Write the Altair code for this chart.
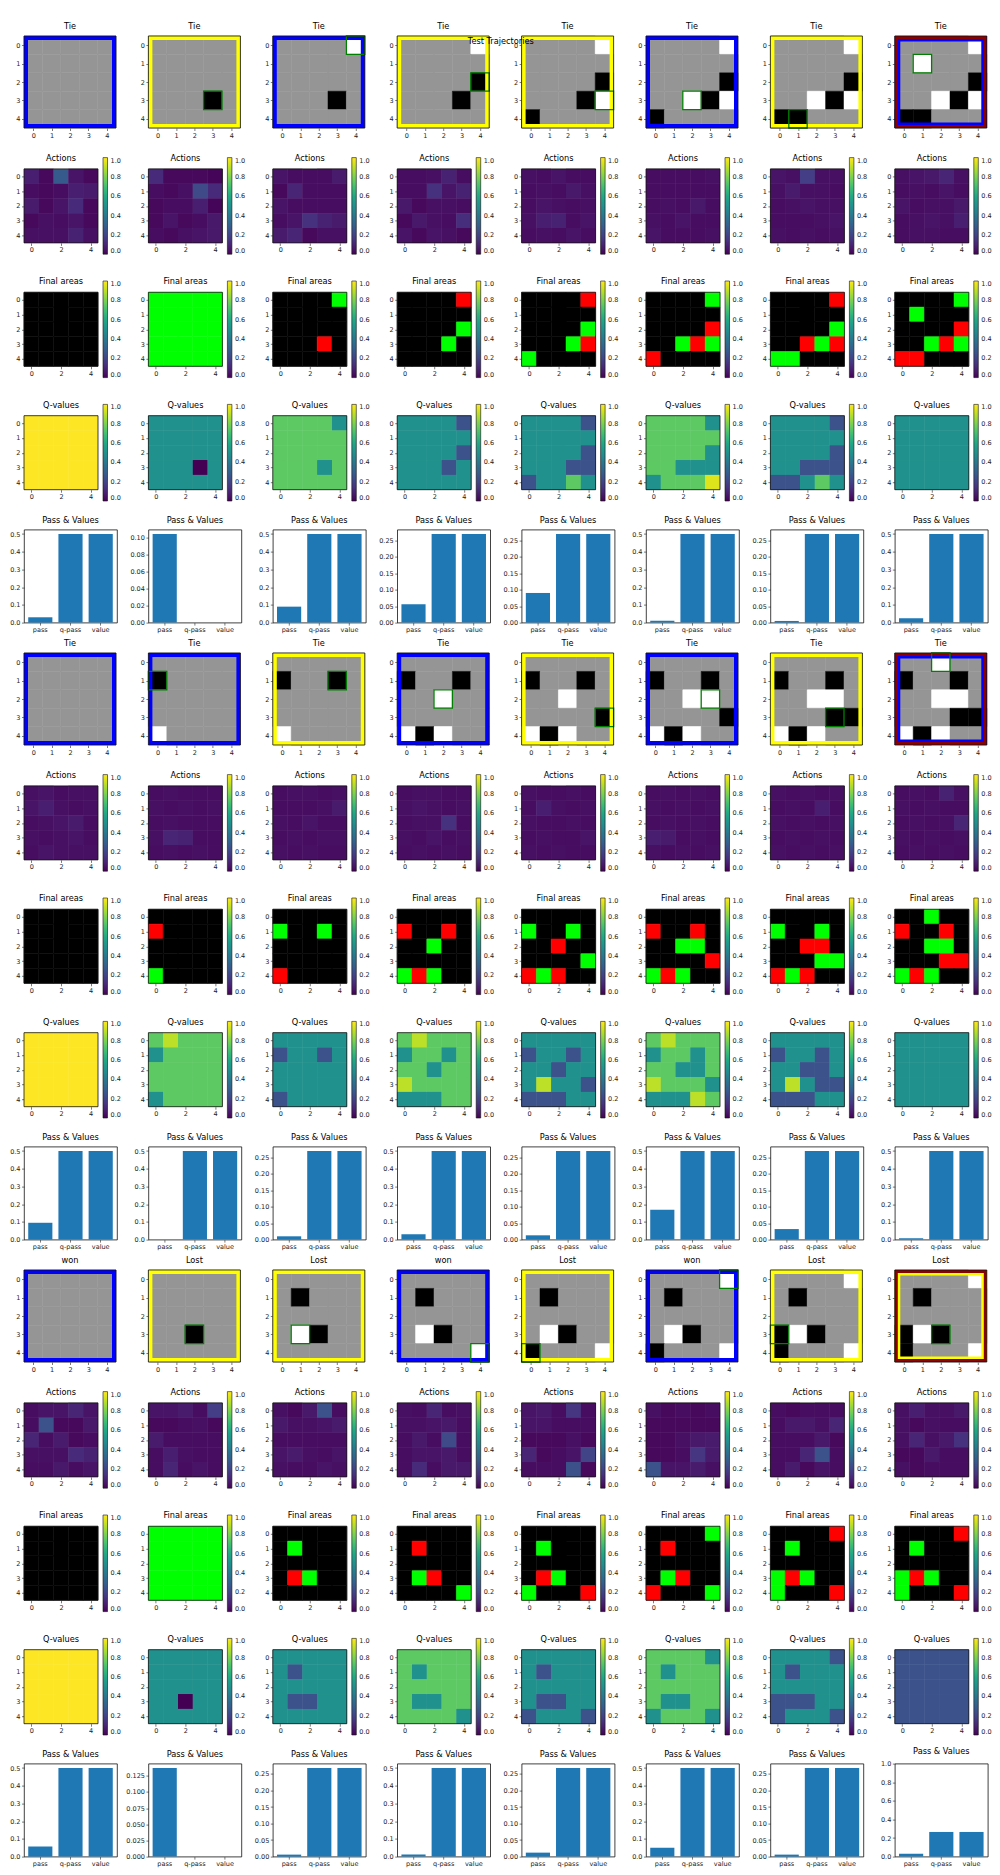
import altair as alt
import pandas as pd

FONT = "DejaVu Sans"
N = 5
IDX = [0, 1, 2, 3, 4]

# ---------------------------------------------------------------- data
board_titles = [
    ["Tie", "Tie", "Tie", "Tie", "Tie", "Tie", "Tie", "Tie"],
    ["Tie", "Tie", "Tie", "Tie", "Tie", "Tie", "Tie", "Tie"],
    ["won", "Lost", "Lost", "won", "Lost", "won", "Lost", "Lost"],
]
# player to move: B = blue frame, Y = yellow frame
board_player = [
    ["B", "Y", "B", "Y", "Y", "B", "Y", "B"],
    ["B", "B", "Y", "B", "Y", "B", "Y", "B"],
    ["B", "Y", "Y", "B", "Y", "B", "Y", "Y"],
]
game_over = [
    [False, False, False, False, False, False, False, True],
    [False, False, False, False, False, False, False, True],
    [False, False, False, False, False, False, False, True],
]
# board cells: . empty, B black stone, W white stone
boards = [
    [
        [".....", ".....", ".....", ".....", "....."],
        [".....", ".....", ".....", "...B.", "....."],
        ["....W", ".....", ".....", "...B.", "....."],
        ["....W", ".....", "....B", "...B.", "....."],
        ["....W", ".....", "....B", "...BW", "B...."],
        ["....W", ".....", "....B", "..WBW", "B...."],
        ["....W", ".....", "....B", "..WBW", "BB..."],
        ["....W", ".W...", "....B", "..WBW", "BB..."],
    ],
    [
        [".....", ".....", ".....", ".....", "....."],
        [".....", "B....", ".....", ".....", "W...."],
        [".....", "B..B.", ".....", ".....", "W...."],
        [".....", "B..B.", "..W..", ".....", "WBW.."],
        [".....", "B..B.", "..W..", "....B", "WBW.."],
        [".....", "B..B.", "..WW.", "....B", "WBW.."],
        [".....", "B..B.", "..WW.", "...BB", "WBW.."],
        ["..W..", "B..B.", "..WW.", "...BB", "WBW.."],
    ],
    [
        [".....", ".....", ".....", ".....", "....."],
        [".....", ".....", ".....", "..B..", "....."],
        [".....", ".B...", ".....", ".WB..", "....."],
        [".....", ".B...", ".....", ".WB..", "....W"],
        [".....", ".B...", ".....", ".WB..", "B...W"],
        ["....W", ".B...", ".....", ".WB..", "B...W"],
        ["....W", ".B...", ".....", "BWB..", "B...W"],
        ["....W", ".B...", ".....", "BWB..", "B...W"],
    ],
]
last_move = [
    [None, (3, 3), (0, 4), (2, 4), (3, 4), (3, 2), (4, 1), (1, 1)],
    [None, (1, 0), (1, 3), (2, 2), (3, 4), (2, 3), (3, 3), (0, 2)],
    [None, (3, 2), (3, 1), (4, 4), (4, 0), (0, 4), (3, 0), (3, 2)],
]
# final areas: . none, G own, R opponent
finals = [
    [
        [".....", ".....", ".....", ".....", "....."],
        ["GGGGG", "GGGGG", "GGGGG", "GGGGG", "GGGGG"],
        ["....G", ".....", ".....", "...R.", "....."],
        ["....R", ".....", "....G", "...G.", "....."],
        ["....R", ".....", "....G", "...GR", "G...."],
        ["....G", ".....", "....R", "..GRG", "R...."],
        ["....R", ".....", "....G", "..RGR", "GG..."],
        ["....G", ".G...", "....R", "..GRG", "RR..."],
    ],
    [
        [".....", ".....", ".....", ".....", "....."],
        [".....", "R....", ".....", ".....", "G...."],
        [".....", "G..G.", ".....", ".....", "R...."],
        [".....", "R..R.", "..G..", ".....", "GRG.."],
        [".....", "G..G.", "..R..", "....G", "RGR.."],
        [".....", "R..R.", "..GG.", "....R", "GRG.."],
        [".....", "G..G.", "..RR.", "...GG", "RGR.."],
        ["..G..", "R..R.", "..GG.", "...RR", "GRG.."],
    ],
    [
        [".....", ".....", ".....", ".....", "....."],
        ["GGGGG", "GGGGG", "GGGGG", "GGGGG", "GGGGG"],
        [".....", ".G...", ".....", ".RG..", "....."],
        [".....", ".R...", ".....", ".GR..", "....G"],
        [".....", ".G...", ".....", ".RG..", "G...R"],
        ["....G", ".R...", ".....", ".GR..", "R...G"],
        ["....R", ".G...", ".....", "GRG..", "G...R"],
        ["....R", ".G...", ".....", "GRG..", "G...R"],
    ],
]
actions = [
    [
        [[0.08, 0.02, 0.28, 0.05, 0.02], [0.03, 0.02, 0.03, 0.08, 0.07], [0.07, 0.02, 0.05, 0.12, 0.02], [0.02, 0.04, 0.03, 0.05, 0.02], [0.04, 0.04, 0.04, 0.09, 0.04]],
        [[0.12, 0.02, 0.02, 0.02, 0.01], [0.03, 0.02, 0.04, 0.22, 0.12], [0.02, 0.03, 0.03, 0.08, 0.01], [0.02, 0.05, 0.02, 0.03, 0.06], [0.03, 0.02, 0.04, 0.05, 0.06]],
        [[0.05, 0.03, 0.03, 0.03, 0.07], [0.02, 0.10, 0.03, 0.03, 0.03], [0.05, 0.03, 0.03, 0.03, 0.03], [0.03, 0.05, 0.14, 0.09, 0.07], [0.07, 0.10, 0.02, 0.04, 0.04]],
        [[0.03, 0.03, 0.04, 0.09, 0.03], [0.03, 0.03, 0.14, 0.05, 0.09], [0.06, 0.02, 0.04, 0.04, 0.03], [0.02, 0.06, 0.04, 0.03, 0.13], [0.05, 0.02, 0.05, 0.04, 0.02]],
        [[0.04, 0.03, 0.05, 0.03, 0.03], [0.03, 0.04, 0.03, 0.06, 0.04], [0.03, 0.05, 0.04, 0.03, 0.04], [0.04, 0.08, 0.09, 0.03, 0.05], [0.03, 0.04, 0.03, 0.05, 0.03]],
        [[0.03, 0.03, 0.03, 0.03, 0.04], [0.03, 0.03, 0.03, 0.03, 0.03], [0.03, 0.04, 0.03, 0.06, 0.03], [0.04, 0.03, 0.05, 0.03, 0.03], [0.05, 0.03, 0.03, 0.03, 0.04]],
        [[0.05, 0.04, 0.18, 0.04, 0.04], [0.04, 0.07, 0.04, 0.04, 0.03], [0.03, 0.04, 0.05, 0.04, 0.04], [0.03, 0.03, 0.03, 0.04, 0.05], [0.04, 0.03, 0.04, 0.03, 0.04]],
        [[0.04, 0.05, 0.06, 0.10, 0.04], [0.03, 0.04, 0.03, 0.05, 0.03], [0.05, 0.03, 0.04, 0.04, 0.06], [0.03, 0.04, 0.05, 0.04, 0.08], [0.03, 0.04, 0.04, 0.03, 0.03]],
    ],
    [
        [[0.04, 0.05, 0.03, 0.04, 0.04], [0.05, 0.08, 0.04, 0.03, 0.04], [0.03, 0.04, 0.05, 0.07, 0.03], [0.04, 0.03, 0.04, 0.05, 0.03], [0.03, 0.05, 0.04, 0.04, 0.04]],
        [[0.03, 0.04, 0.03, 0.03, 0.03], [0.04, 0.03, 0.04, 0.03, 0.04], [0.03, 0.04, 0.03, 0.03, 0.03], [0.04, 0.10, 0.09, 0.03, 0.03], [0.03, 0.04, 0.03, 0.04, 0.03]],
        [[0.03, 0.04, 0.04, 0.03, 0.04], [0.03, 0.03, 0.03, 0.04, 0.07], [0.04, 0.03, 0.05, 0.03, 0.03], [0.03, 0.04, 0.03, 0.04, 0.04], [0.04, 0.03, 0.04, 0.03, 0.03]],
        [[0.03, 0.04, 0.04, 0.03, 0.03], [0.04, 0.05, 0.04, 0.03, 0.04], [0.03, 0.04, 0.04, 0.14, 0.03], [0.04, 0.03, 0.05, 0.03, 0.04], [0.03, 0.04, 0.03, 0.04, 0.03]],
        [[0.04, 0.03, 0.03, 0.04, 0.03], [0.03, 0.08, 0.04, 0.03, 0.04], [0.04, 0.03, 0.03, 0.04, 0.03], [0.03, 0.04, 0.03, 0.03, 0.05], [0.04, 0.03, 0.04, 0.03, 0.03]],
        [[0.03, 0.04, 0.03, 0.04, 0.03], [0.04, 0.03, 0.04, 0.03, 0.04], [0.03, 0.04, 0.03, 0.04, 0.03], [0.08, 0.07, 0.03, 0.04, 0.03], [0.04, 0.03, 0.04, 0.03, 0.04]],
        [[0.04, 0.03, 0.04, 0.03, 0.04], [0.03, 0.04, 0.03, 0.08, 0.03], [0.04, 0.03, 0.04, 0.03, 0.04], [0.03, 0.04, 0.03, 0.04, 0.03], [0.04, 0.03, 0.04, 0.03, 0.04]],
        [[0.03, 0.04, 0.03, 0.09, 0.04], [0.04, 0.03, 0.04, 0.03, 0.03], [0.03, 0.04, 0.03, 0.04, 0.10], [0.04, 0.03, 0.04, 0.03, 0.04], [0.03, 0.04, 0.03, 0.04, 0.03]],
    ],
    [
        [[0.03, 0.05, 0.05, 0.10, 0.05], [0.03, 0.25, 0.02, 0.02, 0.06], [0.10, 0.03, 0.07, 0.02, 0.03], [0.04, 0.04, 0.04, 0.12, 0.09], [0.03, 0.03, 0.06, 0.03, 0.05]],
        [[0.05, 0.05, 0.07, 0.03, 0.18], [0.02, 0.02, 0.03, 0.04, 0.02], [0.07, 0.03, 0.03, 0.03, 0.03], [0.03, 0.08, 0.04, 0.03, 0.03], [0.03, 0.10, 0.03, 0.05, 0.03]],
        [[0.04, 0.02, 0.06, 0.25, 0.03], [0.06, 0.04, 0.04, 0.05, 0.07], [0.03, 0.03, 0.03, 0.03, 0.03], [0.05, 0.07, 0.04, 0.03, 0.05], [0.04, 0.03, 0.03, 0.05, 0.04]],
        [[0.04, 0.03, 0.10, 0.03, 0.04], [0.04, 0.04, 0.05, 0.06, 0.03], [0.03, 0.06, 0.03, 0.22, 0.03], [0.03, 0.05, 0.05, 0.06, 0.03], [0.03, 0.12, 0.03, 0.06, 0.06]],
        [[0.05, 0.06, 0.03, 0.15, 0.03], [0.05, 0.05, 0.03, 0.03, 0.03], [0.02, 0.02, 0.02, 0.04, 0.02], [0.10, 0.02, 0.03, 0.05, 0.20], [0.03, 0.03, 0.03, 0.24, 0.02]],
        [[0.04, 0.02, 0.03, 0.02, 0.03], [0.02, 0.02, 0.02, 0.02, 0.02], [0.02, 0.02, 0.04, 0.06, 0.07], [0.02, 0.02, 0.03, 0.15, 0.07], [0.25, 0.05, 0.05, 0.07, 0.04]],
        [[0.03, 0.02, 0.03, 0.03, 0.03], [0.03, 0.06, 0.06, 0.04, 0.10], [0.03, 0.03, 0.03, 0.06, 0.02], [0.03, 0.03, 0.10, 0.25, 0.03], [0.03, 0.07, 0.02, 0.05, 0.03]],
        [[0.04, 0.08, 0.04, 0.04, 0.06], [0.04, 0.02, 0.04, 0.03, 0.03], [0.04, 0.10, 0.04, 0.06, 0.14], [0.02, 0.02, 0.06, 0.03, 0.03], [0.04, 0.02, 0.03, 0.03, 0.03]],
    ],
]
qvalues = [
    [
        [[1.0, 1.0, 1.0, 1.0, 1.0], [1.0, 1.0, 1.0, 1.0, 1.0], [1.0, 1.0, 1.0, 1.0, 1.0], [1.0, 1.0, 1.0, 1.0, 1.0], [1.0, 1.0, 1.0, 1.0, 1.0]],
        [[0.5, 0.5, 0.5, 0.5, 0.5], [0.5, 0.5, 0.5, 0.5, 0.5], [0.5, 0.5, 0.5, 0.5, 0.5], [0.5, 0.5, 0.5, 0.0, 0.5], [0.5, 0.5, 0.5, 0.5, 0.5]],
        [[0.75, 0.75, 0.75, 0.75, 0.5], [0.75, 0.75, 0.75, 0.75, 0.75], [0.75, 0.75, 0.75, 0.75, 0.75], [0.75, 0.75, 0.75, 0.5, 0.75], [0.75, 0.75, 0.75, 0.75, 0.75]],
        [[0.5, 0.5, 0.5, 0.5, 0.25], [0.5, 0.5, 0.5, 0.5, 0.5], [0.5, 0.5, 0.5, 0.5, 0.25], [0.5, 0.5, 0.5, 0.25, 0.5], [0.5, 0.5, 0.5, 0.5, 0.5]],
        [[0.5, 0.5, 0.5, 0.5, 0.25], [0.5, 0.5, 0.5, 0.5, 0.5], [0.5, 0.5, 0.5, 0.5, 0.25], [0.5, 0.5, 0.5, 0.25, 0.25], [0.25, 0.5, 0.5, 0.75, 0.5]],
        [[0.75, 0.75, 0.75, 0.75, 0.5], [0.75, 0.75, 0.75, 0.75, 0.75], [0.75, 0.75, 0.75, 0.75, 0.5], [0.75, 0.75, 0.5, 0.5, 0.5], [0.5, 0.75, 0.75, 0.75, 0.95]],
        [[0.5, 0.5, 0.5, 0.5, 0.25], [0.5, 0.5, 0.5, 0.5, 0.5], [0.5, 0.5, 0.5, 0.5, 0.25], [0.5, 0.5, 0.25, 0.25, 0.25], [0.25, 0.25, 0.5, 0.75, 0.5]],
        [[0.5, 0.5, 0.5, 0.5, 0.5], [0.5, 0.5, 0.5, 0.5, 0.5], [0.5, 0.5, 0.5, 0.5, 0.5], [0.5, 0.5, 0.5, 0.5, 0.5], [0.5, 0.5, 0.5, 0.5, 0.5]],
    ],
    [
        [[1.0, 1.0, 1.0, 1.0, 1.0], [1.0, 1.0, 1.0, 1.0, 1.0], [1.0, 1.0, 1.0, 1.0, 1.0], [1.0, 1.0, 1.0, 1.0, 1.0], [1.0, 1.0, 1.0, 1.0, 1.0]],
        [[0.75, 0.9, 0.75, 0.75, 0.75], [0.5, 0.75, 0.75, 0.75, 0.75], [0.75, 0.75, 0.75, 0.75, 0.75], [0.75, 0.75, 0.75, 0.75, 0.75], [0.5, 0.75, 0.75, 0.75, 0.75]],
        [[0.5, 0.5, 0.5, 0.5, 0.5], [0.25, 0.5, 0.5, 0.25, 0.5], [0.5, 0.5, 0.5, 0.5, 0.5], [0.5, 0.5, 0.5, 0.5, 0.5], [0.25, 0.5, 0.5, 0.5, 0.5]],
        [[0.75, 0.9, 0.75, 0.75, 0.75], [0.5, 0.75, 0.75, 0.5, 0.75], [0.75, 0.75, 0.5, 0.75, 0.75], [0.9, 0.75, 0.75, 0.75, 0.75], [0.5, 0.5, 0.5, 0.75, 0.75]],
        [[0.5, 0.5, 0.5, 0.5, 0.5], [0.25, 0.5, 0.5, 0.25, 0.5], [0.5, 0.5, 0.25, 0.5, 0.5], [0.5, 0.9, 0.5, 0.5, 0.25], [0.25, 0.25, 0.25, 0.5, 0.5]],
        [[0.75, 0.9, 0.75, 0.75, 0.75], [0.5, 0.75, 0.75, 0.5, 0.75], [0.75, 0.75, 0.5, 0.5, 0.75], [0.9, 0.75, 0.75, 0.75, 0.5], [0.5, 0.5, 0.5, 0.9, 0.75]],
        [[0.5, 0.5, 0.5, 0.5, 0.5], [0.25, 0.5, 0.5, 0.25, 0.5], [0.5, 0.5, 0.25, 0.25, 0.5], [0.5, 0.9, 0.5, 0.25, 0.25], [0.25, 0.25, 0.25, 0.5, 0.5]],
        [[0.5, 0.5, 0.5, 0.5, 0.5], [0.5, 0.5, 0.5, 0.5, 0.5], [0.5, 0.5, 0.5, 0.5, 0.5], [0.5, 0.5, 0.5, 0.5, 0.5], [0.5, 0.5, 0.5, 0.5, 0.5]],
    ],
    [
        [[1.0, 1.0, 1.0, 1.0, 1.0], [1.0, 1.0, 1.0, 1.0, 1.0], [1.0, 1.0, 1.0, 1.0, 1.0], [1.0, 1.0, 1.0, 1.0, 1.0], [1.0, 1.0, 1.0, 1.0, 1.0]],
        [[0.5, 0.5, 0.5, 0.5, 0.5], [0.5, 0.5, 0.5, 0.5, 0.5], [0.5, 0.5, 0.5, 0.5, 0.5], [0.5, 0.5, 0.0, 0.5, 0.5], [0.5, 0.5, 0.5, 0.5, 0.5]],
        [[0.5, 0.5, 0.5, 0.5, 0.5], [0.5, 0.25, 0.5, 0.5, 0.5], [0.5, 0.5, 0.5, 0.5, 0.5], [0.5, 0.25, 0.25, 0.5, 0.5], [0.5, 0.5, 0.5, 0.5, 0.5]],
        [[0.75, 0.75, 0.75, 0.75, 0.75], [0.75, 0.5, 0.75, 0.75, 0.75], [0.75, 0.75, 0.75, 0.75, 0.75], [0.75, 0.5, 0.5, 0.75, 0.75], [0.75, 0.75, 0.75, 0.75, 0.5]],
        [[0.5, 0.5, 0.5, 0.5, 0.5], [0.5, 0.25, 0.5, 0.5, 0.5], [0.5, 0.5, 0.5, 0.5, 0.5], [0.5, 0.25, 0.25, 0.5, 0.5], [0.25, 0.5, 0.5, 0.5, 0.25]],
        [[0.75, 0.75, 0.75, 0.75, 0.5], [0.75, 0.5, 0.75, 0.75, 0.75], [0.75, 0.75, 0.75, 0.75, 0.75], [0.75, 0.5, 0.5, 0.75, 0.75], [0.5, 0.75, 0.75, 0.75, 0.5]],
        [[0.5, 0.5, 0.5, 0.5, 0.25], [0.5, 0.25, 0.5, 0.5, 0.5], [0.5, 0.5, 0.5, 0.5, 0.5], [0.25, 0.25, 0.25, 0.5, 0.5], [0.25, 0.5, 0.5, 0.5, 0.25]],
        [[0.25, 0.25, 0.25, 0.25, 0.25], [0.25, 0.25, 0.25, 0.25, 0.25], [0.25, 0.25, 0.25, 0.25, 0.25], [0.25, 0.25, 0.25, 0.25, 0.25], [0.25, 0.25, 0.25, 0.25, 0.25]],
    ],
]
bar_names = ["pass", "q-pass", "value"]
pass_prob = [
    [0.030, 0.104, 0.090, 0.056, 0.090, 0.010, 0.005, 0.025],
    [0.095, 0.001, 0.010, 0.030, 0.013, 0.168, 0.032, 0.007],
    [0.057, 0.137, 0.006, 0.012, 0.012, 0.050, 0.006, 0.030],
]
qpass_val = [
    [0.5, 0.0, 0.5, 0.269, 0.269, 0.5, 0.269, 0.5],
    [0.5, 0.5, 0.269, 0.5, 0.269, 0.5, 0.269, 0.5],
    [0.5, 0.0, 0.268, 0.5, 0.268, 0.5, 0.268, 0.265],
]
value_val = [
    [0.5, 0.0, 0.5, 0.269, 0.269, 0.5, 0.269, 0.5],
    [0.5, 0.5, 0.269, 0.5, 0.269, 0.5, 0.269, 0.5],
    [0.5, 0.0, 0.268, 0.5, 0.268, 0.5, 0.268, 0.265],
]
bar_tick_step = [
    [0.1, 0.02, 0.1, 0.05, 0.05, 0.1, 0.05, 0.1],
    [0.1, 0.1, 0.05, 0.1, 0.05, 0.1, 0.05, 0.1],
    [0.1, 0.025, 0.05, 0.1, 0.05, 0.1, 0.05, 0.2],
]
bar_ylim = [
    [None, None, None, None, None, None, None, None],
    [None, None, None, None, None, None, None, None],
    [None, None, None, None, None, None, None, 1.0],
]

# ---------------------------------------------------------------- styles
GRAY = "#959595"
STONE = {".": GRAY, "B": "#000000", "W": "#ffffff"}
AREA = {".": "#000000", "G": "#00ff00", "R": "#ff0000"}
PLAYER = {"B": "#0000ff", "Y": "#ffff00"}
OVER = "#8b0000"
LAST = "#008000"
SPINE = "#111111"
BAR = "#1f77b4"
FMT = {0.1: ".1f", 0.2: ".1f", 0.05: ".2f", 0.02: ".2f", 0.025: ".3f"}

CELL = 93          # height of every panel (matplotlib axes box)
BOARD = 92
HEAT = 74
BARW = 93
PAD_PX = (CELL - HEAT) / 2.0               # empty band above/below a heatmap
PAD_U = PAD_PX / (HEAT / 5.0)              # same band in cell units

SX = alt.Scale(domain=[-0.5, 4.5], nice=False, zero=False)
SY = alt.Scale(domain=[-0.5, 4.5], nice=False, zero=False, reverse=True)
SYH = alt.Scale(domain=[-0.5 - PAD_U, 4.5 + PAD_U], nice=False, zero=False, reverse=True)
VIR = alt.Scale(scheme="viridis", domain=[0, 1])
NOFRAME = alt.ViewBackground(stroke="transparent")


def legend():
    return alt.Legend(orient="none", legendX=79, legendY=-1.8, direction="vertical",
                      gradientLength=96.6, gradientThickness=4.5,
                      values=[0, 0.2, 0.4, 0.6, 0.8, 1.0], format=".1f", title=None,
                      labelFontSize=6.5, labelFont=FONT, labelColor="#222222",
                      labelOffset=3, labelBaseline="middle",
                      gradientStrokeColor=SPINE, gradientStrokeWidth=0.6)


def axis(ticks, offset=0):
    return alt.Axis(values=ticks, title=None, format="d", grid=False, domain=False, offset=offset)


def enc_cells(ticks, sy=SY, xoff=0):
    return dict(x=alt.X("x0:Q", scale=SX, axis=axis(ticks, xoff)), x2=alt.X2("x1"),
                y=alt.Y("y0:Q", scale=sy, axis=axis(IDX)), y2=alt.Y2("y1"))


def enc_extent(ticks, sy=SY, xoff=0):
    return dict(x=alt.X(field="x0", aggregate="min", type="quantitative", scale=SX, axis=axis(ticks, xoff)),
                x2=alt.X2(field="x1", aggregate="max"),
                y=alt.Y(field="y0", aggregate="min", type="quantitative", scale=sy, axis=axis(IDX)),
                y2=alt.Y2(field="y1", aggregate="max"))


def cell_frame(grid, mapper=None, last=None):
    recs = []
    for r in IDX:
        for c in IDX:
            val = grid[r][c]
            rec = dict(x0=c - 0.5, x1=c + 0.5, y0=r - 0.5, y1=r + 0.5, v=0.0)
            if mapper is None:
                rec["v"] = val
            else:
                rec["fill"] = mapper[val]
            rec["last"] = bool(last is not None and last == (r, c))
            recs.append(rec)
    return pd.DataFrame(recs)


def spine(df, ticks, sy=SY, xoff=0):
    return alt.Chart(df).mark_rect(fillOpacity=0, stroke=SPINE, strokeWidth=0.8).encode(
        **enc_extent(ticks, sy, xoff))


def board_chart(b, k):
    ticks = IDX
    df = cell_frame(boards[b][k], STONE, last_move[b][k])
    over = game_over[b][k]
    layers = [
        alt.Chart(df).mark_rect(strokeWidth=0.5).encode(
            **enc_cells(ticks), fill=alt.Fill("fill:N", scale=None), stroke=alt.Stroke("fill:N", scale=None)),
        alt.Chart(df).mark_rect(fillOpacity=0, stroke=PLAYER[board_player[b][k]],
                                strokeWidth=11 if over else 8, clip=True).encode(**enc_extent(ticks)),
    ]
    if over:
        layers.append(alt.Chart(df).mark_rect(fillOpacity=0, stroke=OVER, strokeWidth=6, clip=True)
                      .encode(**enc_extent(ticks)))
    layers.append(alt.Chart(df).transform_filter("datum.last").mark_rect(
        fillOpacity=0, stroke=LAST, strokeWidth=1.3).encode(**enc_cells(ticks)))
    layers.append(spine(df, ticks))
    return alt.layer(*layers).properties(width=BOARD, height=BOARD, title=board_titles[b][k], view=NOFRAME)


def heat_title(text):
    return alt.TitleParams(text, offset=4 - PAD_PX)


def heat_chart(grid, title):
    ticks = [0, 2, 4]
    df = cell_frame(grid)
    enc = enc_cells(ticks, SYH, -PAD_PX)
    cells = alt.Chart(df).mark_rect().encode(**enc, color=alt.Color("v:Q", scale=VIR, legend=legend()))
    cells2 = alt.Chart(df).mark_rect().encode(**enc, color=alt.Color("v:Q", scale=VIR, legend=legend()))
    return alt.layer(cells, cells2, spine(df, ticks, SYH, -PAD_PX)).properties(
        width=HEAT, height=CELL, title=heat_title(title), view=NOFRAME)


def final_chart(grid):
    ticks = [0, 2, 4]
    df = cell_frame(grid, AREA)
    enc = enc_cells(ticks, SYH, -PAD_PX)
    cells = alt.Chart(df).mark_rect(strokeWidth=0.5).encode(
        **enc, fill=alt.Fill("fill:N", scale=None), stroke=alt.Stroke("fill:N", scale=None))
    cbar = alt.Chart(df).mark_point(size=0, strokeWidth=0, opacity=1).encode(
        x=enc["x"], y=enc["y"], color=alt.Color("v:Q", scale=VIR, legend=legend()))
    return alt.layer(cells, cbar, spine(df, ticks, SYH, -PAD_PX)).properties(
        width=HEAT, height=CELL, title=heat_title("Final areas"), view=NOFRAME)


def bar_chart(b, k):
    vals = [pass_prob[b][k], qpass_val[b][k], value_val[b][k]]
    df = pd.DataFrame({"name": bar_names, "v": vals})
    top = bar_ylim[b][k] if bar_ylim[b][k] is not None else 1.05 * max(vals)
    step = bar_tick_step[b][k]
    nt = int(top / step + 1e-9)
    ticks = [round(i * step, 4) for i in range(nt + 1)]
    return alt.Chart(df).mark_bar(color=BAR).encode(
        x=alt.X("name:N", sort=bar_names, scale=alt.Scale(paddingInner=0.2, paddingOuter=0.14),
                axis=alt.Axis(title=None, labelAngle=0, domain=False, grid=False)),
        y=alt.Y("v:Q", scale=alt.Scale(domain=[0, top], nice=False, zero=True),
                axis=alt.Axis(values=ticks, format=FMT[step], title=None, domain=False, grid=False)),
    ).properties(width=BARW, height=CELL, title="Pass & Values",
                 view=alt.ViewBackground(stroke=SPINE, strokeWidth=0.8))


panels = []
for b in range(3):
    for k in range(8):
        panels.append(board_chart(b, k))
    for k in range(8):
        panels.append(heat_chart(actions[b][k], "Actions"))
    for k in range(8):
        panels.append(final_chart(finals[b][k]))
    for k in range(8):
        panels.append(heat_chart(qvalues[b][k], "Q-values"))
    for k in range(8):
        panels.append(bar_chart(b, k))

chart = alt.concat(*panels, columns=8).resolve_scale(
    color="independent", fill="independent", stroke="independent"
).properties(
    bounds="flush",
    spacing={"row": 30.4, "column": 31.4},
    align={"row": "all", "column": "each"},
    padding={"left": 9, "top": 21, "right": 5, "bottom": 5},
    title=alt.TitleParams("Test Trajectories", anchor="middle", frame="bounds", offset=-25,
                          fontSize=8.2, font=FONT, fontWeight="normal", color="#000000"),
).configure_view(
    stroke="transparent"
).configure_axis(
    labelFont=FONT, labelFontSize=6.5, labelColor="#222222", tickColor="#222222",
    tickSize=2.5, tickWidth=0.6, labelPadding=1.5, grid=False, domain=False,
).configure_title(
    font=FONT, fontSize=8.2, fontWeight="normal", offset=4, color="#000000", frame="group",
)

chart.save("out.html", embed_options={"renderer": "svg", "actions": False})
